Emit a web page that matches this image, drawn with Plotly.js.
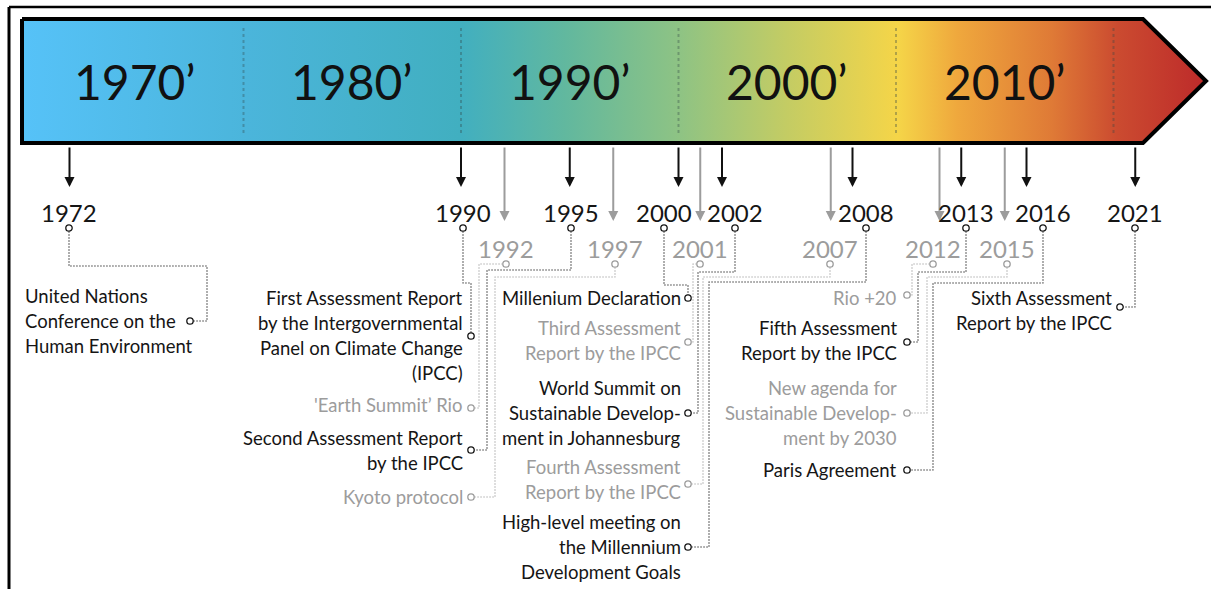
<!DOCTYPE html>
<html>
<head>
<meta charset="utf-8">
<script src="https://cdn.plot.ly/plotly-3.0.1.min.js"></script>
<style>
  html, body { margin: 0; padding: 0; background: #fff; }
  #plot { width: 1211px; height: 589px; }
</style>
</head>
<body>
<div id="plot"></div>
<script>
// Decades shown in the banner
let decades = [1970, 1980, 1990, 2000, 2010]
let decadeLabels = ["1970’", "1980’", "1990’", "2000’", "2010’"]
let dividers = [1980, 1990, 2000, 2010, 2020]

// Timeline events
let years = [1972, 1990, 1992, 1995, 1997, 2000, 2001, 2002, 2007, 2008, 2012, 2013, 2015, 2016, 2021]
let tiers = ['major', 'major', 'minor', 'major', 'minor', 'major', 'minor', 'major', 'minor', 'major', 'minor', 'major', 'minor', 'major', 'major']
let labels = [
    'United Nations\nConference on the\nHuman Environment',
    'First Assessment Report\nby the Intergovernmental\nPanel on Climate Change\n(IPCC)',
    "'Earth Summit’ Rio",
    'Second Assessment Report\nby the IPCC',
    'Kyoto protocol',
    'Millenium Declaration',
    'Third Assessment\nReport by the IPCC',
    'World Summit on\nSustainable Develop-\nment in Johannesburg',
    'Fourth Assessment\nReport by the IPCC',
    'High-level meeting on\nthe Millennium\nDevelopment Goals',
    'Rio +20',
    'Fifth Assessment\nReport by the IPCC',
    'New agenda for\nSustainable Develop-\nment by 2030',
    'Paris Agreement',
    'Sixth Assessment\nReport by the IPCC'
]

// Page geometry (pixels) - where each label block sits and how its connector runs
let W = 1211, H = 589
let PPY = 21.75, X1970 = 26
let xOf = y => X1970 + (y - 1970) * PPY
let place = {
    1972: {cx: 69, ax: 24, al: 'left', ly: 296, dot: [190, 321], bend: 266, col: 207},
    1990: {cx: 463, ax: 464, ly: 298, dot: [471, 336], bend: 283, col: 471},
    1992: {cx: 506, ax: 464, ly: 405, dot: [471, 408], bend: 264, col: 479},
    1995: {cx: 571, ax: 464, ly: 438, dot: [471, 450], bend: 270, col: 487},
    1997: {cx: 615, ax: 464, ly: 497, dot: [471, 497], bend: 277, col: 495},
    2000: {cx: 664, ax: 682, ly: 298, dot: [688, 298], bend: 285, col: 688},
    2001: {cx: 700, ax: 682, ly: 328, dot: [688, 342], bend: 264, col: 693},
    2002: {cx: 735, ax: 682, ly: 388, dot: [688, 413], bend: 272, col: 698},
    2007: {cx: 830, ax: 682, ly: 467, dot: [688, 484], bend: 277, col: 703},
    2008: {cx: 866, ax: 682, ly: 522, dot: [688, 547], bend: 282, col: 709},
    2012: {cx: 933, ax: 898, ly: 298, dot: [907, 295], bend: 264, col: 912},
    2013: {cx: 966, ax: 898, ly: 328, dot: [907, 342], bend: 272, col: 918},
    2015: {cx: 1007, ax: 898, ly: 388, dot: [907, 413], bend: 277, col: 927},
    2016: {cx: 1043, ax: 898, ly: 470, dot: [907, 470], bend: 283, col: 933},
    2021: {cx: 1135, ax: 1113, ly: 298, dot: [1120, 307], bend: 307, col: 1135}
}

let FONT = 'Lato, "Open Sans", sans-serif'
let ink = {major: '#151515', minor: '#9c9c9c'}
let wire = {major: '#3a3a3a', minor: '#b0b0b0'}
let R = 3.2

// Gradient along the banner
let grad = [
    [0, '#56c2f8'], [0.19, '#4bb5db'], [0.37, '#41afc0'], [0.46, '#62b89e'],
    [0.555, '#8ec384'], [0.645, '#c3cc64'], [0.74, '#f5d548'], [0.79, '#efa83d'],
    [0.87, '#df7a36'], [0.925, '#cb4b30'], [1, '#bd2a2a']
]

let banner = {
    type: 'scatter', xaxis: 'x2', yaxis: 'y',
    x: [22, 1143, 1206, 1143, 22, 22],
    y: [19, 19, 81, 143, 143, 19],
    mode: 'lines', fill: 'toself',
    fillgradient: {type: 'horizontal', colorscale: grad},
    line: {color: '#000', width: 4},
    hoverinfo: 'skip', showlegend: false
}

// keeps the year axis alive underneath
let anchorTrace = {
    type: 'scatter', xaxis: 'x', yaxis: 'y',
    x: years, y: years.map(() => -50), mode: 'markers',
    marker: {size: 1, opacity: 0}, hoverinfo: 'skip', showlegend: false
}

let shapes = []
let annotations = []

// frame
shapes.push({type: 'line', xref: 'x2', yref: 'y', x0: 9, x1: W, y0: 7, y1: 7, line: {color: '#000', width: 2.5}})
shapes.push({type: 'line', xref: 'x2', yref: 'y', x0: 9, x1: 9, y0: 7, y1: H, line: {color: '#000', width: 3}})

// dotted decade dividers
for (let i = 0; i < dividers.length; i++) {
    shapes.push({type: 'line', xref: 'x', yref: 'y', x0: dividers[i], x1: dividers[i], y0: 28, y1: 136,
        line: {color: 'rgba(50,70,70,0.35)', width: 2, dash: 'dot'}, layer: 'above'})
}

// decade names
for (let i = 0; i < decades.length; i++) {
    annotations.push({
        xref: 'x', yref: 'y', x: decades[i] + 5, y: 81, yanchor: 'middle',
        text: decadeLabels[i], showarrow: false,
        font: {family: FONT, size: 48, color: '#111'}
    })
}

for (let i = 0; i < years.length; i++) {
    let yr = years[i]
    let t = tiers[i]
    let p = place[yr]
    let shift = p.cx - xOf(yr)
    let tipY = t === 'major' ? 187 : 221
    let yearY = t === 'major' ? 212 : 248
    let cy = t === 'major' ? 228 : 264

    // arrow from banner
    annotations.push({
        xref: 'x', yref: 'y', axref: 'x', ayref: 'y',
        x: yr, y: tipY, ax: yr, ay: 146, text: '',
        showarrow: true, arrowhead: 2, arrowsize: 1, arrowwidth: 2,
        arrowcolor: t === 'major' ? '#111' : '#9c9c9c'
    })

    // year label
    annotations.push({
        xref: 'x', yref: 'y', x: yr, y: yearY, xshift: shift,
        text: String(yr), showarrow: false,
        font: {family: FONT, size: 24, color: ink[t]}
    })

    // small circle under the year
    shapes.push({type: 'circle', xref: 'x', yref: 'y', xsizemode: 'pixel', xanchor: yr,
        x0: shift - R, x1: shift + R, y0: cy - R, y1: cy + R,
        line: {color: ink[t], width: 1.3}, fillcolor: '#fff'})

    // connector
    let cx = p.cx
    let path
    if (p.bend <= cy + R) {
        path = 'M' + (cx - R) + ',' + cy + ' L' + p.col + ',' + cy
    } else {
        path = 'M' + cx + ',' + (cy + R) + ' L' + cx + ',' + p.bend + ' L' + p.col + ',' + p.bend
    }
    if (Math.abs(p.dot[0] - p.col) < 2) {
        path += ' L' + p.dot[0] + ',' + (p.dot[1] - R)
    } else {
        let side = p.dot[0] < p.col ? R : -R
        path += ' L' + p.col + ',' + p.dot[1] + ' L' + (p.dot[0] + side) + ',' + p.dot[1]
    }
    shapes.push({type: 'path', xref: 'x2', yref: 'y', path: path,
        line: {color: wire[t], width: 1.1, dash: '1.5px,1.5px'}})

    // circle next to the label
    shapes.push({type: 'circle', xref: 'x2', yref: 'y',
        x0: p.dot[0] - R, x1: p.dot[0] + R, y0: p.dot[1] - R, y1: p.dot[1] + R,
        line: {color: ink[t], width: 1.3}, fillcolor: '#fff'})

    // label lines
    let lines = labels[i].split('\n')
    for (let j = 0; j < lines.length; j++) {
        annotations.push({
            xref: 'x2', yref: 'y', x: p.ax, y: p.ly + j * 25,
            xanchor: p.al === 'left' ? 'left' : 'right', yanchor: 'middle',
            text: lines[j], showarrow: false, borderpad: 0,
            font: {family: FONT, size: 18.5, color: ink[t]}
        })
    }
}

let layout = {
    width: W, height: H,
    margin: {l: 0, r: 0, t: 0, b: 0},
    paper_bgcolor: '#fff', plot_bgcolor: '#fff',
    showlegend: false,
    xaxis: {range: [1970 - X1970 / PPY, 1970 + (W - X1970) / PPY], visible: false, fixedrange: true},
    xaxis2: {range: [0, W], overlaying: 'x', visible: false, fixedrange: true},
    yaxis: {range: [H, 0], visible: false, fixedrange: true},
    shapes: shapes,
    annotations: annotations
}

Plotly.newPlot('plot', [anchorTrace, banner], layout, {displayModeBar: false, staticPlot: true})
</script>
</body>
</html>
